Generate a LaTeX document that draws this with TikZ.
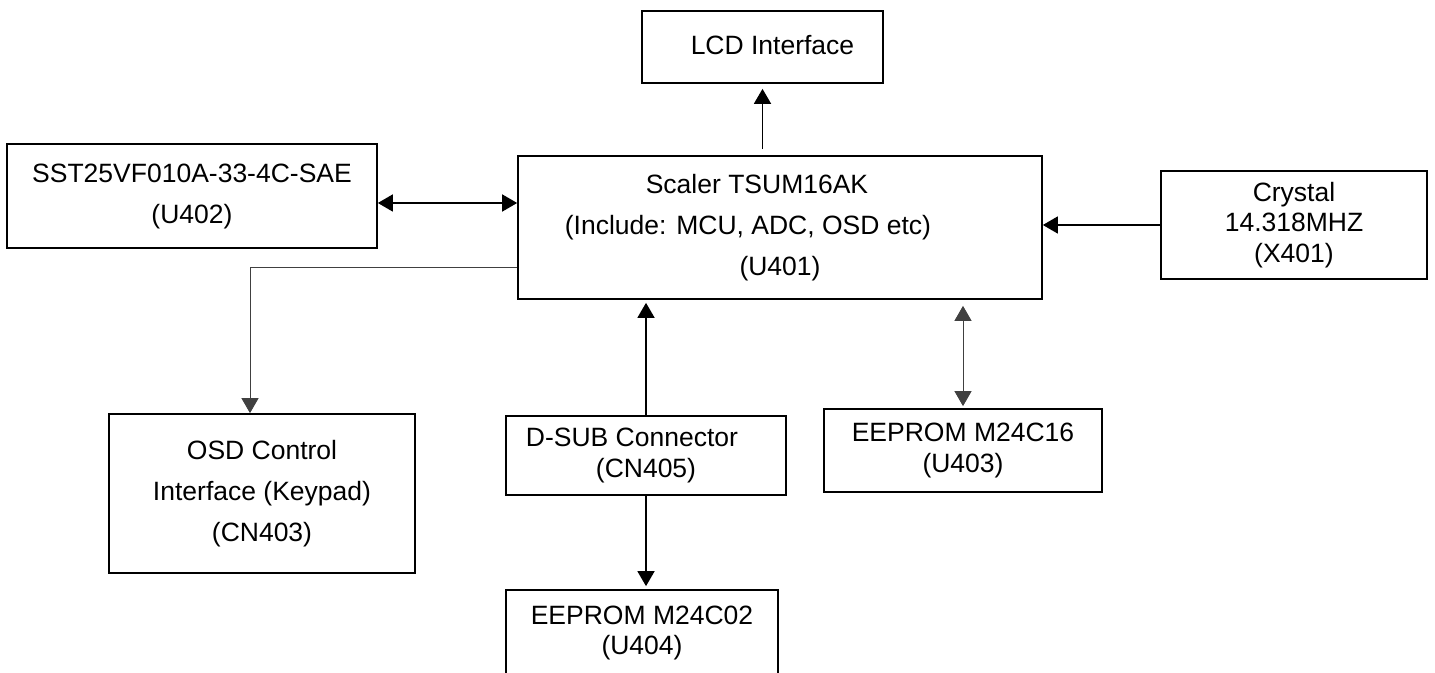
\documentclass[tikz,border=0pt]{standalone}
\usepackage{fontspec}
\setmainfont{Liberation Sans}
\usetikzlibrary{arrows.meta}

\begin{document}
\begin{tikzpicture}[x=0.5pt,y=-0.5pt,
  blk/.style={draw,line width=0.85pt,align=center,inner sep=0pt,
    font=\fontsize{13.25}{20.5}\selectfont},
  tblk/.style={blk,font=\fontsize{13.25}{15.3}\selectfont},
  arr/.style={line width=0.8pt,-{Triangle[length=7.5pt,width=8.5pt]}},
  darr/.style={line width=0.8pt,{Triangle[length=7.5pt,width=8.5pt]}-{Triangle[length=7.5pt,width=8.5pt]}},
  thinarr/.style={line width=0.45pt,black!75,-{Triangle[length=7.5pt,width=8.5pt]}},
  thindarr/.style={line width=0.45pt,black!75,{Triangle[length=7.5pt,width=8.5pt]}-{Triangle[length=7.5pt,width=8.5pt]}}]

  \useasboundingbox (0,0) rectangle (1435,673);

  \node[blk,minimum width=120.5pt,minimum height=36pt] (lcd) at (762.5,47)
    {\raisebox{2.5pt}{\hbox{\kern10pt LCD Interface}}};
  \node[blk,minimum width=262pt,minimum height=71.5pt] (scaler) at (780,227.5)
    {\hbox{Scaler TSUM16AK\kern23pt}\\\hbox{(Include: MCU, ADC, OSD etc)\kern32pt}\\(U401)};
  \node[blk,minimum width=185pt,minimum height=52pt] (sst) at (192,196)
    {SST25VF010A-33-4C-SAE\\(U402)};
  \node[tblk,minimum width=133pt,minimum height=54pt] (xtal) at (1294,225)
    {Crystal\\14.318MHZ\\(X401)};
  \node[blk,minimum width=153pt,minimum height=79.5pt] (osd) at (262,493.5)
    {OSD Control\\Interface (Keypad)\\(CN403)};
  \node[tblk,minimum width=140pt,minimum height=39.5pt] (dsub) at (646,455.5)
    {\hbox{D-SUB Connector\kern14pt}\\(CN405)};
  \node[tblk,minimum width=139pt,minimum height=41.5pt] (eep16) at (963,450.5)
    {EEPROM M24C16\\(U403)};
  \node[tblk,minimum width=136pt,minimum height=43pt] (eep02) at (642,633)
    {EEPROM M24C02\\(U404)};

  % links to the scaler
  \draw[arr,shorten <=3pt,shorten >=2.5pt] (scaler.north -| lcd.south) -- (lcd.south);
  \draw[darr] ([yshift=-3.5pt]sst.east) -- ([yshift=-3.5pt]sst.east -| scaler.west);
  \draw[arr] (xtal.west) -- (xtal.west -| scaler.east);
  \draw[thinarr] ([yshift=-19.75pt]scaler.west) -| ([xshift=-6pt]osd.north);
  \draw[arr,shorten >=1.5pt] (dsub.north) -- (dsub.north |- scaler.south);
  \draw[arr,shorten >=1.5pt] (dsub.south) -- (dsub.south |- eep02.north);
  \draw[thindarr,shorten <=1pt,shorten >=3pt] (eep16.north) -- (eep16.north |- scaler.south);

\end{tikzpicture}
\end{document}
